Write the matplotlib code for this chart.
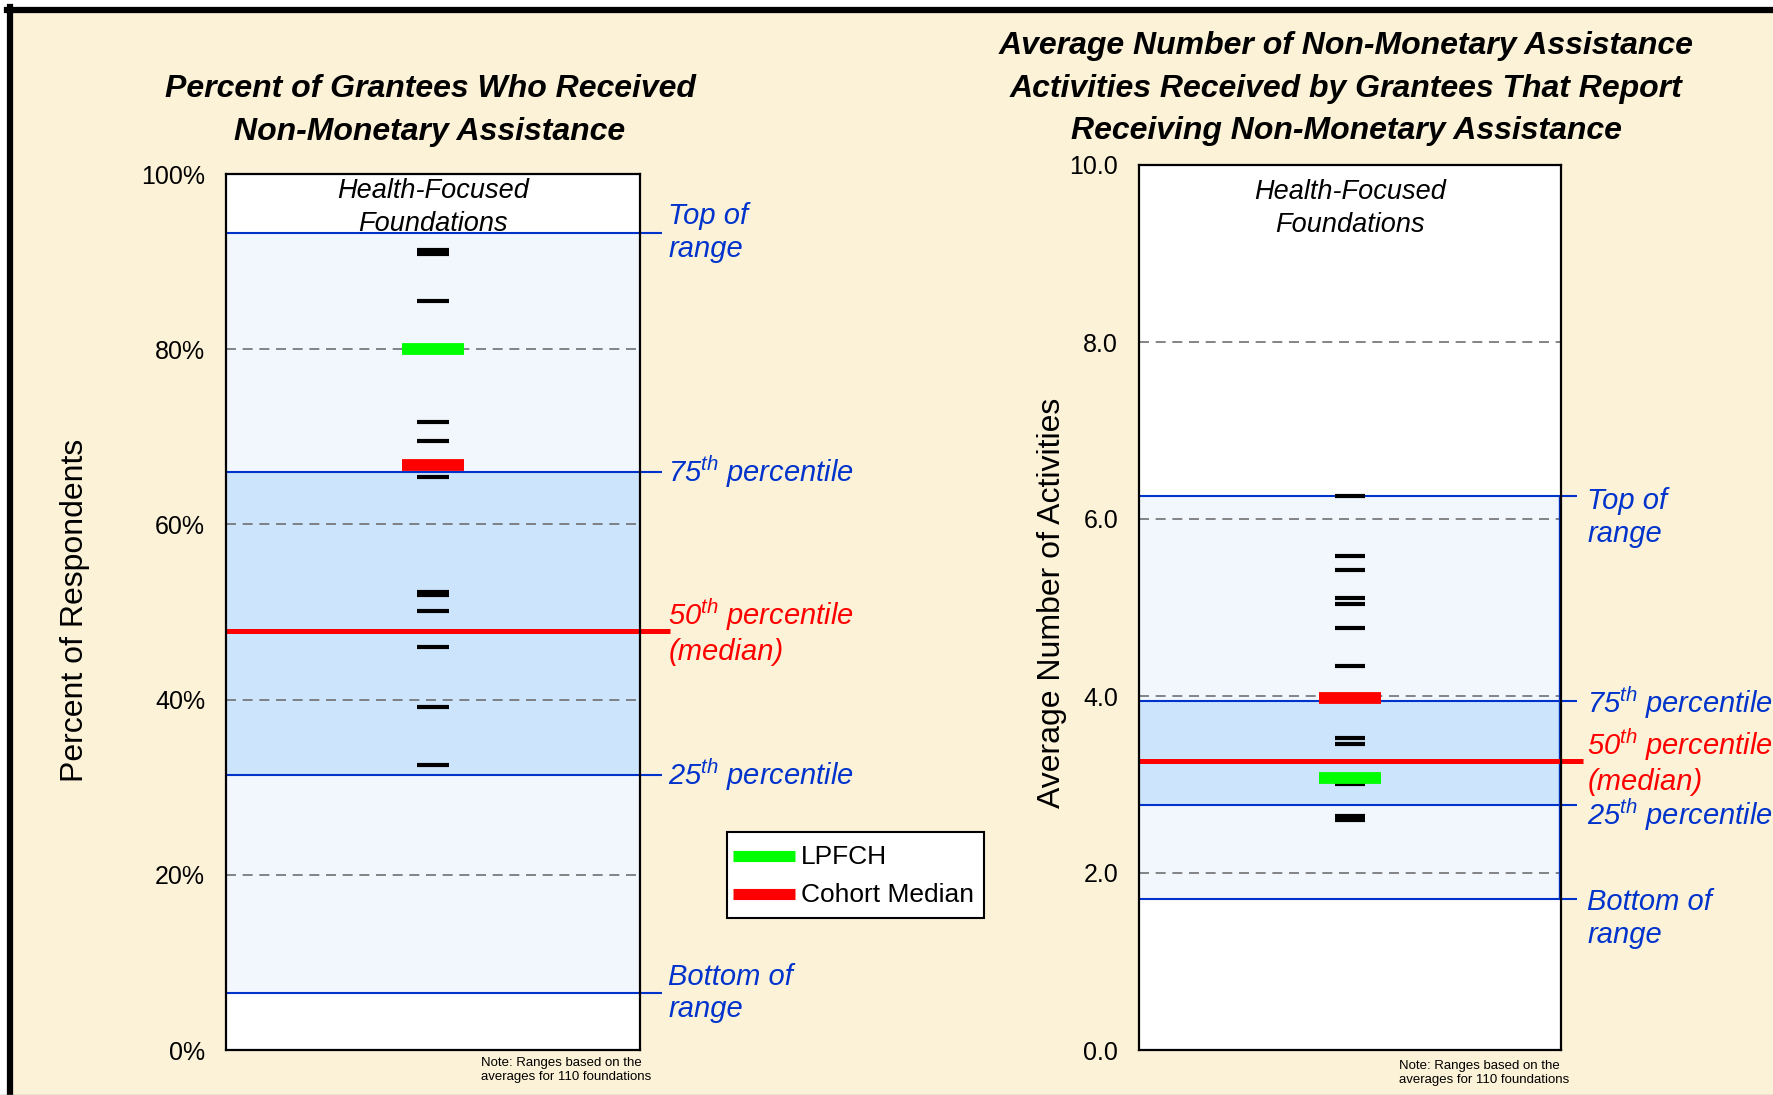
import matplotlib.pyplot as plt
from matplotlib.lines import Line2D

plt.rcParams['font.family'] = ['Liberation Sans', 'DejaVu Sans']
plt.rcParams['mathtext.fontset'] = 'custom'
plt.rcParams['mathtext.rm'] = 'Liberation Sans'
plt.rcParams['mathtext.it'] = 'Liberation Sans:italic'

# ----------- data -------------------------
# left: percent of grantees who received non-monetary assistance
pct_foundations = [90.9, 91.35, 85.5, 71.7, 69.5, 65.4, 52.3, 51.9, 50.1, 46.0, 39.1, 32.5]
pct_lpfch = 80.0
pct_cohort_median = 66.8
pct_range = [6.5, 31.4, 47.8, 66.0, 93.3]   # bottom, 25th, 50th, 75th, top

# right: average number of activities
act_foundations = [6.26, 5.58, 5.42, 5.11, 5.04, 4.77, 4.34, 3.52, 3.46, 3.01, 2.64, 2.60]
act_lpfch = 3.07
act_cohort_median = 3.98
act_range = [1.71, 2.77, 3.26, 3.94, 6.26]

range_labels = ['Bottom of\nrange', r'25$^{th}$ percentile',
                '50$^{th}$ percentile\n(median)', r'75$^{th}$ percentile', 'Top of\nrange']
legend_labels = ['LPFCH', 'Cohort Median']

CREAM = '#FCF2D8'
BLUE = '#0033CC'
LIGHT = '#F2F7FE'
MID = '#CCE5FC'
W, H = 1774, 1095

fig = plt.figure(figsize=(17.74, 10.95), dpi=100, facecolor=CREAM)


def draw_panel(ax, vals, lpfch, cohort, rng, ymax, grid, fmt, line_end, red_end,
               label_x, label_y, dash_w, color_w, head_y):
    ax.set_facecolor('white')
    ax.set_xlim(0, 1)
    ax.set_ylim(0, ymax)
    # bands
    ax.axhspan(rng[0], rng[4], color=LIGHT, zorder=0.5, lw=0)
    ax.axhspan(rng[1], rng[3], color=MID, zorder=0.6, lw=0)
    # grid
    for g in grid[1:-1]:
        ax.axhline(g, color='#707070', lw=1.2, ls=(0, (6, 4)), zorder=1)
    # range lines reaching out to the labels
    for i, y in enumerate(rng):
        if i == 2:
            ax.plot([0, red_end], [y, y], color='#FF0000', lw=3.6, clip_on=False, zorder=2.5,
                    solid_capstyle='butt')
        else:
            ax.plot([0, line_end], [y, y], color=BLUE, lw=1.5, clip_on=False, zorder=2,
                    solid_capstyle='butt')
    for lab, ly, i in zip(range_labels, label_y, range(5)):
        ax.text(label_x, ly, lab, color='#FF0000' if i == 2 else BLUE, fontsize=21,
                style='italic', va='center', ha='left', linespacing=1.22, clip_on=False)
    # foundations
    ax.hlines(vals, 0.5 - dash_w / 2, 0.5 + dash_w / 2, color='black', lw=3, zorder=3)
    ax.hlines([lpfch], 0.5 - color_w / 2, 0.5 + color_w / 2, color='#00FF00', lw=8.5, zorder=4)
    ax.hlines([cohort], 0.5 - color_w / 2, 0.5 + color_w / 2, color='#FF0000', lw=8.5, zorder=4)
    ax.text(0.5, head_y, 'Health-Focused\nFoundations', transform=ax.transAxes, ha='center',
            va='center', fontsize=19.5, style='italic', linespacing=1.35, zorder=5)
    ax.set_yticks(grid)
    ax.set_yticklabels([fmt % g for g in grid])
    ax.set_xticks([])
    ax.tick_params(axis='y', length=0, pad=15, labelsize=18)
    for s in ax.spines.values():
        s.set_linewidth(1.6)
        s.set_color('black')
        s.set_zorder(6)


# ----------- left panel -------------------------
ax1 = fig.add_axes([226 / W, 1 - 1050 / H, 414 / W, 876 / H])
draw_panel(ax1, pct_foundations, pct_lpfch, pct_cohort_median, pct_range, 100,
           [0, 20, 40, 60, 80, 100], '%d%%', 1.052, 1.072, 1.068,
           pct_range, 0.075, 0.152, 0.962)

# ----------- right panel -------------------------
ax2 = fig.add_axes([1139 / W, 1 - 1050 / H, 422 / W, 885 / H])
draw_panel(ax2, act_foundations, act_lpfch, act_cohort_median, act_range, 10,
           [0, 2, 4, 6, 8, 10], '%.1f', 1.038, 1.052, 1.062,
           [1.49, 2.66, 3.26, 3.92, 6.02], 0.071, 0.147, 0.951)
ax2.vlines(0.995, act_range[0], act_range[4], color=BLUE, lw=1, zorder=2)

# titles and axis labels
fig.text(430 / W, 1 - 110.5 / H, 'Percent of Grantees Who Received\nNon-Monetary Assistance',
         ha='center', va='center', fontsize=23, weight='bold', style='italic', linespacing=1.53)
fig.text(1346 / W, 1 - 88.5 / H,
         'Average Number of Non-Monetary Assistance\nActivities Received by Grantees That Report\n'
         'Receiving Non-Monetary Assistance',
         ha='center', va='center', fontsize=23, weight='bold', style='italic', linespacing=1.53)
fig.text(75 / W, 1 - 610 / H, 'Percent of Respondents', rotation=90,
         ha='center', va='center', fontsize=23)
fig.text(1052 / W, 1 - 603 / H, 'Average Number of Activities', rotation=90,
         ha='center', va='center', fontsize=23)

# notes
note = 'Note: Ranges based on the\naverages for 110 foundations'
fig.text(481 / W, 1 - 1070 / H, note, ha='left', va='center', fontsize=9.5, linespacing=1.3)
fig.text(1399 / W, 1 - 1073 / H, note, ha='left', va='center', fontsize=9.5, linespacing=1.3)

# legend box (drawn by hand so it sits where the reference has it)
fig.add_artist(plt.Rectangle((727 / W, 1 - 918 / H), 257 / W, 86 / H, transform=fig.transFigure,
                             facecolor='white', edgecolor='black', lw=1.5))
for lab, col, y in zip(legend_labels, ['#00FF00', '#FF0000'], [856, 894]):
    fig.add_artist(Line2D([733 / W, 795 / W], [1 - y / H, 1 - y / H], transform=fig.transFigure,
                          color=col, lw=8, solid_capstyle='butt'))
    fig.text(801 / W, 1 - (y + 1) / H, lab, ha='left', va='center', fontsize=19)

# outer frame
fig.add_artist(plt.Rectangle((0, 1 - 7 / H), 1, 7 / H, transform=fig.transFigure,
                             color='white', lw=0))
fig.add_artist(plt.Rectangle((0, 0), 7 / W, 1, transform=fig.transFigure,
                             color='white', lw=0))
fig.add_artist(Line2D([7 / W, 1], [1 - 10 / H, 1 - 10 / H], transform=fig.transFigure,
                      color='black', lw=4.5))
fig.add_artist(Line2D([10 / W, 10 / W], [0, 1 - 7 / H], transform=fig.transFigure,
                      color='black', lw=4.5))
fig.add_artist(Line2D([0, 1], [0.5 / H, 0.5 / H], transform=fig.transFigure,
                      color='#A0A0A0', lw=1))

fig.savefig('out.png', dpi=100, facecolor=CREAM)
